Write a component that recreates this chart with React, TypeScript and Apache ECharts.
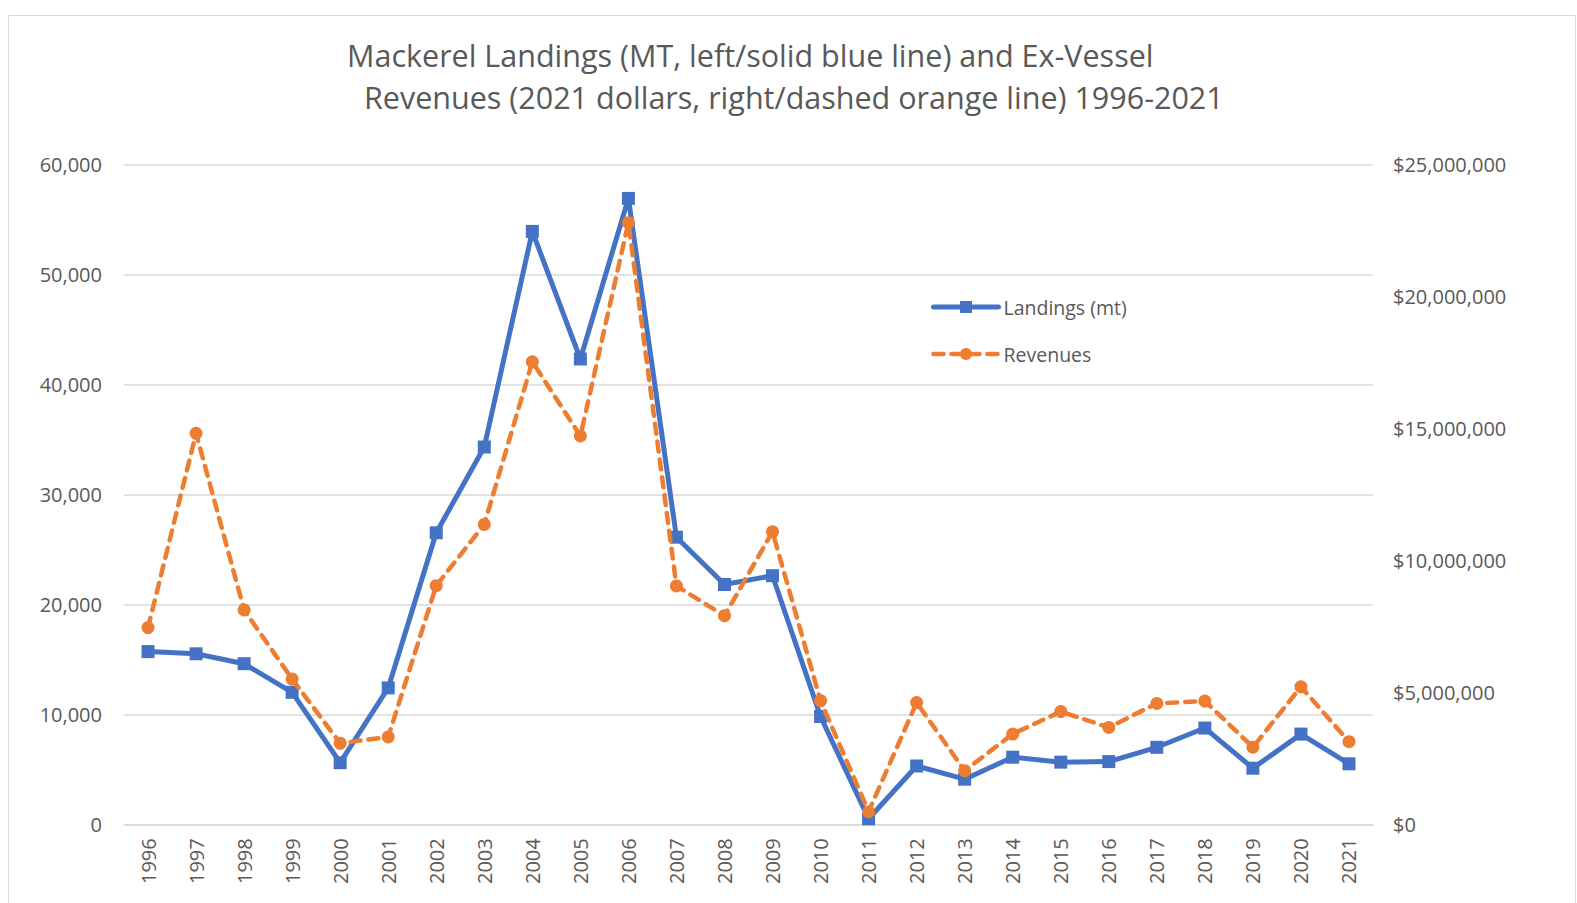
import React, { useEffect, useRef } from "react";
import * as echarts from "echarts";

const years = ["1996","1997","1998","1999","2000","2001","2002","2003","2004","2005","2006","2007","2008","2009","2010","2011","2012","2013","2014","2015","2016","2017","2018","2019","2020","2021"];
const landings = [15700, 15500, 14600, 12000, 5600, 12400, 26500, 34300, 53900, 42300, 56900, 26100, 21800, 22600, 9800, 500, 5300, 4100, 6100, 5650, 5700, 7000, 8750, 5100, 8200, 5500];
const revenues = [7450000, 14810000, 8120000, 5500000, 3070000, 3310000, 9040000, 11360000, 17520000, 14710000, 22790000, 9030000, 7900000, 11080000, 4680000, 480000, 4610000, 2030000, 3420000, 4270000, 3670000, 4580000, 4670000, 2920000, 5210000, 3130000];
const titleLine1 = "Mackerel Landings (MT, left/solid blue line) and Ex-Vessel";
const titleLine2 = "Revenues (2021 dollars, right/dashed orange line) 1996-2021";

const FONT = "'Open Sans', sans-serif";
const TXT = "#595959";
const BLUE = "#4472C4";
const ORANGE = "#ED7D31";

const fmt = (v: number) => v.toLocaleString("en-US");

export default function App() {
  const ref = useRef<HTMLDivElement>(null);
  useEffect(() => {
    if (!ref.current) return;
    const chart = echarts.init(ref.current, null, { renderer: "svg" });
    chart.setOption({
      animation: false,
      backgroundColor: "#ffffff",
      textStyle: { fontFamily: FONT },
      title: [
        { text: titleLine1, left: 342, top: 34.5, padding: 5, textStyle: { fontFamily: FONT, fontSize: 30.5, fontWeight: "normal", color: TXT } },
        { text: titleLine2, left: 359, top: 76.5, padding: 5, textStyle: { fontFamily: FONT, fontSize: 30.5, fontWeight: "normal", color: TXT } },
      ],
      graphic: [
        { type: "rect", shape: { x: 8.5, y: 15.5, width: 1567, height: 1000 }, style: { fill: "none", stroke: "#D9D9D9", lineWidth: 1 }, silent: true },
      ],
      legend: {
        orient: "vertical",
        left: 926,
        top: 292,
        itemWidth: 65,
        itemHeight: 15,
        itemGap: 27,
        textStyle: { fontFamily: FONT, fontSize: 19.5, color: TXT },
        data: [
          { name: "Landings (mt)", lineStyle: { width: 5, color: BLUE }, itemStyle: { color: BLUE } },
          { name: "Revenues", lineStyle: { width: 4.5, color: ORANGE, type: [10, 8], cap: "round" }, itemStyle: { color: ORANGE } },
        ],
      },
      grid: { left: 124, right: 204, top: 164.3, bottom: 78.7, containLabel: false },
      xAxis: {
        type: "category",
        data: years,
        boundaryGap: true,
        axisLine: { show: true, lineStyle: { color: "#D9D9D9", width: 1.5 } },
        axisTick: { show: false },
        axisLabel: { rotate: 90, margin: 14, fontFamily: FONT, fontSize: 20, color: TXT, interval: 0 },
      },
      yAxis: [
        {
          type: "value",
          min: 0,
          max: 60000,
          interval: 10000,
          axisLine: { show: false },
          axisTick: { show: false },
          splitLine: { lineStyle: { color: "#D9D9D9", width: 1.5 } },
          axisLabel: { margin: 22, fontFamily: FONT, fontSize: 20, color: TXT, formatter: (v: number) => fmt(v) },
        },
        {
          type: "value",
          min: 0,
          max: 25000000,
          interval: 5000000,
          position: "right",
          axisLine: { show: false },
          axisTick: { show: false },
          splitLine: { show: false },
          axisLabel: { margin: 20, fontFamily: FONT, fontSize: 20, color: TXT, formatter: (v: number) => "$" + fmt(v) },
        },
      ],
      series: [
        {
          name: "Landings (mt)",
          type: "line",
          data: landings,
          yAxisIndex: 0,
          symbol: "rect",
          symbolSize: 13,
          itemStyle: { color: BLUE },
          lineStyle: { color: BLUE, width: 5, cap: "round", join: "round" },
          z: 2,
        },
        {
          name: "Revenues",
          type: "line",
          data: revenues,
          yAxisIndex: 1,
          symbol: "circle",
          symbolSize: 13,
          itemStyle: { color: ORANGE },
          lineStyle: { color: ORANGE, width: 4.5, type: [10, 8], cap: "round", join: "round" },
          z: 3,
        },
      ],
    });
    return () => chart.dispose();
  }, []);
  return <div ref={ref} style={{ position: "absolute", left: 0, top: 0, width: 1577, height: 903 }} />;
}
